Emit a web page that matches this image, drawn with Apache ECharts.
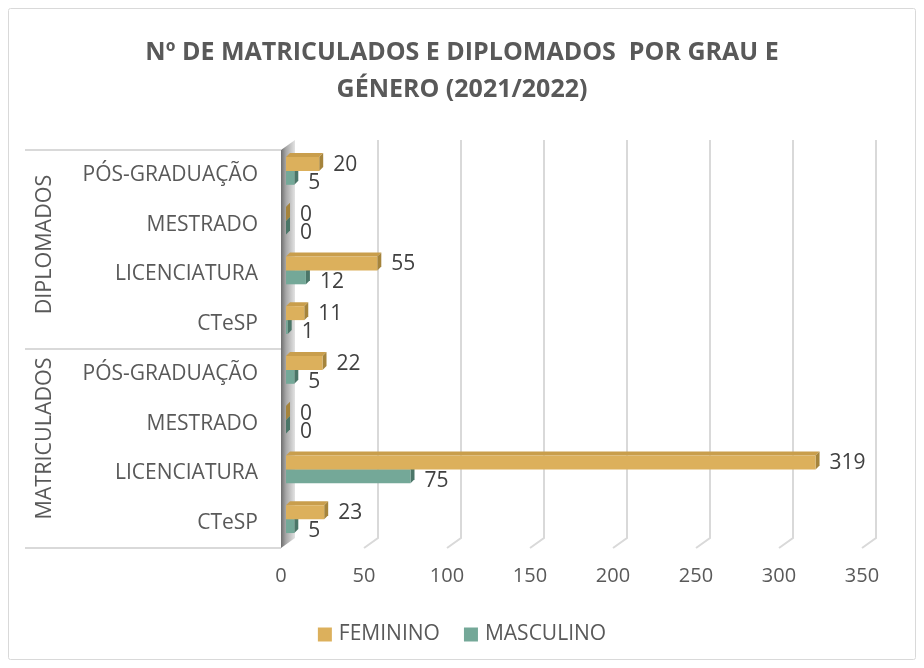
<!DOCTYPE html>
<html>
<head>
<meta charset="utf-8">
<script src="https://cdn.jsdelivr.net/npm/echarts@6/dist/echarts.min.js"></script>
<style>
  html, body { margin: 0; padding: 0; background: #fff; }
  #chart { width: 924px; height: 668px; }
</style>
</head>
<body>
<div id="chart"></div>
<script>
// dados (categorias de baixo para cima no eixo y)
var categories = ['CTeSP', 'LICENCIATURA', 'MESTRADO', 'PÓS-GRADUAÇÃO',
                  'CTeSP', 'LICENCIATURA', 'MESTRADO', 'PÓS-GRADUAÇÃO'];
var groups = ['MATRICULADOS', 'DIPLOMADOS'];
var feminino = [23, 319, 0, 22, 11, 55, 0, 20];
var masculino = [5, 75, 0, 5, 1, 12, 0, 5];
var xTicks = [0, 50, 100, 150, 200, 250, 300, 350];

// layout
var GRID_LEFT = 281, GRID_TOP = 150, GRID_RIGHT = 62, GRID_BOTTOM = 120;
var H = 668;
var FONT = '"Open Sans", "DejaVu Sans", sans-serif';
var TXT = '#595959';

var chart = echarts.init(document.getElementById('chart'));

// 3D-ish bar: front rect + top face + right side face
function bar3d(which, front, top, side) {
  return function (params, api) {
    var v = api.value(0);
    var c = api.value(1);
    var base = api.coord([0, c]);
    var end = api.coord([v, c]);
    var band = api.size([0, 1])[1];
    var h = band * 0.28;
    var d = 4;
    var x0 = base[0] + 5, x1 = end[0] + 5;
    var yc = base[1] - 4;
    var y = which === 0 ? yc - h : yc;
    return {
      type: 'group',
      children: [
        { type: 'polygon', shape: { points: [[x0, y], [x0 + d, y - d], [x1 + d, y - d], [x1, y]] }, style: { fill: top } },
        { type: 'polygon', shape: { points: [[x1, y], [x1 + d, y - d], [x1 + d, y + h - d], [x1, y + h]] }, style: { fill: side } },
        { type: 'rect', shape: { x: x0, y: y, width: x1 - x0, height: h }, style: { fill: front } },
        { type: 'text', style: { text: String(v), x: x1 + d + 10, y: y + h / 2 + (which === 0 ? 1 : 5),
            verticalAlign: 'middle', fill: '#404040', fontSize: 21, fontFamily: FONT } }
      ]
    };
  };
}

// back wall gridlines with the floor slant
function gridLines(params, api) {
  var cs = params.coordSys;
  var t = api.value(0);
  var x = api.coord([t, 0])[0];
  var top = cs.y, bottom = cs.y + cs.height;
  var bx = x + 14, dy = -10;
  var kids = [];
  if (t === 0) {
    kids.push({
      type: 'polygon',
      shape: { points: [[x, top], [bx, top + dy], [bx, bottom + dy], [x, bottom]] },
      style: { fill: new echarts.graphic.LinearGradient(0, 0, 1, 0, [
        { offset: 0, color: '#6e6e6e' }, { offset: 0.35, color: '#a6a6a6' }, { offset: 1, color: '#e3e3e3' }]) }
    });
  } else {
    kids.push({
      type: 'polyline',
      shape: { points: [[bx, top + dy], [bx, bottom + dy], [x, bottom]] },
      style: { stroke: '#d9d9d9', lineWidth: 2, fill: null }
    });
  }
  return { type: 'group', children: kids };
}

var plotTop = GRID_TOP, plotBottom = H - GRID_BOTTOM;
var mid = (plotTop + plotBottom) / 2;

var option = {
  animation: false,
  title: {
    text: 'Nº DE MATRICULADOS E DIPLOMADOS  POR GRAU E\nGÉNERO (2021/2022)',
    left: 'center',
    top: 29,
    textStyle: { fontSize: 25, fontWeight: 'bold', color: TXT, fontFamily: FONT, lineHeight: 37 }
  },
  legend: {
    data: ['FEMININO', 'MASCULINO'],
    bottom: 18,
    left: 'center',
    icon: 'rect',
    itemWidth: 14,
    itemHeight: 14,
    itemGap: 24,
    textStyle: { fontSize: 21, color: TXT, fontFamily: FONT, padding: [0, 0, 0, 2] }
  },
  grid: { left: GRID_LEFT, right: GRID_RIGHT, top: GRID_TOP, bottom: GRID_BOTTOM },
  xAxis: {
    type: 'value',
    min: 0,
    max: 350,
    interval: 50,
    axisLine: { show: false },
    axisTick: { show: false },
    splitLine: { show: false },
    axisLabel: { fontSize: 20, color: TXT, fontFamily: FONT, margin: 18 }
  },
  yAxis: {
    type: 'category',
    data: categories,
    axisLine: { show: false },
    axisTick: { show: false },
    axisLabel: { fontSize: 21, color: TXT, fontFamily: FONT, margin: 23, padding: [6, 0, 0, 0] }
  },
  graphic: [
    { type: 'rect', shape: { x: 8.5, y: 8.5, width: 907, height: 651, r: 2 },
      style: { fill: null, stroke: '#d9d9d9', lineWidth: 1 }, silent: true },
    { type: 'line', shape: { x1: 25, y1: plotTop, x2: GRID_LEFT, y2: plotTop }, style: { stroke: '#d9d9d9', lineWidth: 2 } },
    { type: 'line', shape: { x1: 25, y1: mid, x2: GRID_LEFT, y2: mid }, style: { stroke: '#d9d9d9', lineWidth: 2 } },
    { type: 'line', shape: { x1: 25, y1: plotBottom, x2: GRID_LEFT, y2: plotBottom }, style: { stroke: '#d9d9d9', lineWidth: 2 } },
    { type: 'text', x: 45, y: (plotTop + mid) / 2 - 5, rotation: Math.PI / 2,
      style: { text: groups[1], align: 'center', verticalAlign: 'middle', fontSize: 21.5, fontFamily: FONT, fill: TXT } },
    { type: 'text', x: 45, y: (mid + plotBottom) / 2 - 10, rotation: Math.PI / 2,
      style: { text: groups[0], align: 'center', verticalAlign: 'middle', fontSize: 21.5, fontFamily: FONT, fill: TXT } }
  ],
  series: [
    {
      type: 'custom',
      name: 'grid',
      renderItem: gridLines,
      encode: { x: 0, y: 1 },
      data: xTicks.map(function (t) { return [t, 0]; }),
      clip: false,
      silent: true,
      z: 1
    },
    {
      type: 'custom',
      name: 'MASCULINO',
      renderItem: bar3d(1, '#74a898', '#5f9282', '#4b7668'),
      encode: { x: 0, y: 1 },
      data: masculino.map(function (v, i) { return [v, i]; }),
      itemStyle: { color: '#74a898' },
      clip: false,
      z: 2
    },
    {
      type: 'custom',
      name: 'FEMININO',
      renderItem: bar3d(0, '#dcb05c', '#c99e4c', '#a5843c'),
      encode: { x: 0, y: 1 },
      data: feminino.map(function (v, i) { return [v, i]; }),
      itemStyle: { color: '#dcb05c' },
      clip: false,
      z: 3
    }
  ]
};

chart.setOption(option);
</script>
</body>
</html>
